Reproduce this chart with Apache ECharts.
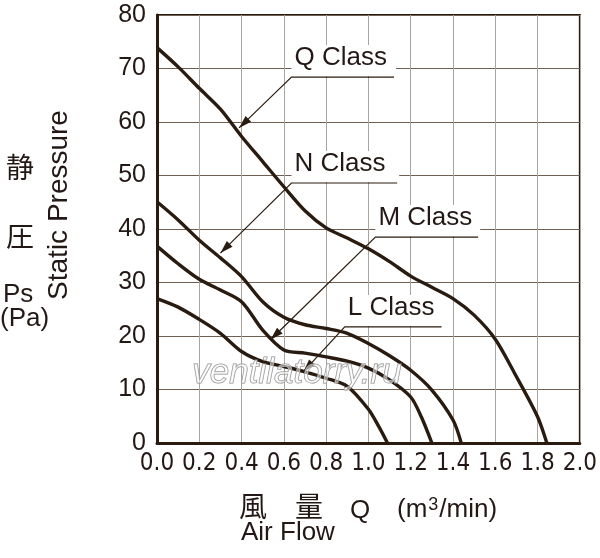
<!DOCTYPE html>
<html>
<head>
<meta charset="utf-8">
<script src="https://cdn.jsdelivr.net/npm/echarts@6/dist/echarts.min.js"></script>
<style>
  html, body { margin: 0; padding: 0; background: #fff; }
  #main { width: 600px; height: 558px; }
</style>
</head>
<body>
<div id="main"></div>
<script>
// air flow (m3/min) / static pressure (Pa)
var qFlow = [0, 0.1, 0.2, 0.3, 0.4, 0.5, 0.6, 0.7, 0.8, 0.9, 1.0, 1.1, 1.2, 1.3, 1.4, 1.5, 1.6, 1.7, 1.8, 1.844];
var qPres = [73.9, 70.3, 66.3, 62.4, 57.3, 52.6, 47.9, 43.4, 40.2, 38.3, 36.3, 33.9, 31.2, 29.1, 27.0, 23.9, 19.4, 12.4, 4.9, 0];

var nFlow = [0, 0.1, 0.2, 0.3, 0.4, 0.5, 0.6, 0.7, 0.8, 0.9, 1.0, 1.1, 1.2, 1.3, 1.4, 1.439];
var nPres = [45.1, 41.7, 37.9, 34.6, 31.1, 26.4, 23.5, 22.1, 21.4, 20.5, 18.6, 16.3, 13.6, 9.9, 4.3, 0];

var mFlow = [0, 0.1, 0.2, 0.3, 0.4, 0.5, 0.6, 0.7, 0.8, 0.9, 1.0, 1.1, 1.2, 1.25, 1.3];
var mPres = [36.8, 33.5, 30.6, 28.6, 26.4, 21.1, 17.4, 16.8, 16.1, 15.3, 14.0, 11.8, 8.6, 4.9, 0];

var lFlow = [0, 0.1, 0.2, 0.3, 0.4, 0.5, 0.6, 0.7, 0.8, 0.9, 1.0, 1.05, 1.09];
var lPres = [27.0, 25.4, 23.1, 20.5, 17.1, 15.2, 14.3, 13.3, 12.1, 10.6, 6.3, 3.0, 0];

// class labels: underline start/end and arrow tip, in data coords
var classNames = ['Q Class', 'N Class', 'M Class', 'L Class'];
var lineStart = [[0.636, 68.4], [0.636, 48.6], [1.033, 38.5], [0.888, 21.7]];
var lineEnd = [[1.121, 68.4], [1.136, 48.6], [1.519, 38.5], [1.346, 21.7]];
var arrowTip = [[0.388, 58.9], [0.300, 35.5], [0.537, 19.3], [0.692, 13.3]];

var ink = '#2a1b10';
var textColor = '#231815';
var font = '"Liberation Sans", Arial, sans-serif';
var narrowFont = '"Liberation Sans Narrow", "DejaVu Sans Condensed", "Liberation Sans", sans-serif';
var cjkFont = '"Noto Sans CJK JP", "Noto Sans CJK SC", sans-serif';

function pairs(xs, ys) {
  return xs.map(function (x, i) { return [x, ys[i]]; });
}

function curve(name, xs, ys) {
  return {
    name: name,
    type: 'line',
    data: pairs(xs, ys),
    smooth: 0.3,
    showSymbol: false,
    lineStyle: { color: ink, width: 3.4 },
    z: 3
  };
}

var chart = echarts.init(document.getElementById('main'));

var option = {
  animation: false,
  backgroundColor: '#fff',
  grid: {
    left: 157, right: 15, top: 15, bottom: 115,
    show: true, borderColor: ink, borderWidth: 2
  },
  xAxis: {
    type: 'value',
    min: 0, max: 2, interval: 0.2,
    axisLine: { show: true, lineStyle: { color: ink, width: 3 } },
    axisTick: { show: false },
    axisLabel: {
      color: textColor, fontSize: 24, fontFamily: narrowFont, margin: 9,
      formatter: function (v) { return v.toFixed(1); }
    },
    splitLine: { show: true, lineStyle: { color: '#aaa49e', width: 1 } }
  },
  yAxis: {
    type: 'value',
    min: 0, max: 80, interval: 10,
    axisLine: { show: true, lineStyle: { color: ink, width: 3 } },
    axisTick: { show: false },
    axisLabel: { color: textColor, fontSize: 25, fontFamily: font, margin: 11 },
    splitLine: { show: true, lineStyle: { color: '#6e5f52', width: 1 } }
  },
  series: [
    curve('Q Class', qFlow, qPres),
    curve('N Class', nFlow, nPres),
    curve('M Class', mFlow, mPres),
    curve('L Class', lFlow, lPres)
  ]
};

chart.setOption(option);

// fixed text round the plot
var graphics = [
  { type: 'text', left: 6, top: 153, style: { text: '静', font: '28px ' + cjkFont, fill: textColor } },
  { type: 'text', left: 6, top: 222, style: { text: '圧', font: '28px ' + cjkFont, fill: textColor } },
  { type: 'text', left: 3, top: 282, style: { text: 'Ps', font: '26px ' + font, fill: textColor } },
  { type: 'text', left: 0, top: 306, style: { text: '(Pa)', font: '26px ' + font, fill: textColor } },
  {
    type: 'text', x: 73, y: 205, rotation: Math.PI / 2,
    style: { text: 'Static Pressure', font: '28px ' + font, fill: textColor, textAlign: 'center', textVerticalAlign: 'bottom' }
  },
  { type: 'text', left: 239, top: 492, style: { text: '風', font: '28px ' + cjkFont, fill: textColor } },
  { type: 'text', left: 295, top: 492, style: { text: '量', font: '28px ' + cjkFont, fill: textColor } },
  { type: 'text', left: 350, top: 498, style: { text: 'Q', font: '26px ' + font, fill: textColor } },
  {
    type: 'text', left: 397, top: 496,
    style: {
      text: '(m{s|3}/min)', font: '26px ' + font, fill: textColor,
      rich: { s: { fontSize: 18, fontFamily: 'Liberation Sans', fill: textColor, padding: [0, 1, 9, 1] } }
    }
  },
  { type: 'text', left: 241, top: 520, style: { text: 'Air Flow', font: '26px ' + font, fill: textColor } },
  {
    type: 'text', x: 297, y: 391, z: 10,
    style: {
      text: 'ventilatorry.ru', font: 'italic 35px ' + font, fill: 'rgba(255,255,255,0.5)',
      stroke: '#8c8c8c', lineWidth: 1, textAlign: 'center', textVerticalAlign: 'bottom'
    }
  }
];

// class labels with leader lines and arrows
classNames.forEach(function (name, i) {
  var a = chart.convertToPixel({ gridIndex: 0 }, lineStart[i]);
  var b = chart.convertToPixel({ gridIndex: 0 }, lineEnd[i]);
  var t = chart.convertToPixel({ gridIndex: 0 }, arrowTip[i]);
  graphics.push({
    type: 'rect', z: 1,
    shape: { x: a[0], y: a[1] - 32, width: b[0] - a[0] + 2, height: 31 },
    style: { fill: '#fff' }
  });
  graphics.push({
    type: 'text', z: 4, x: a[0] + 3, y: a[1] - 6,
    style: { text: name, font: '26px ' + font, fill: textColor, textVerticalAlign: 'bottom' }
  });
  graphics.push({
    type: 'polyline', z: 4,
    shape: { points: [[b[0], b[1]], [a[0], a[1]], [t[0], t[1]]] },
    style: { stroke: ink, lineWidth: 1.2, fill: null }
  });
  // arrow head at the tip
  var dx = t[0] - a[0], dy = t[1] - a[1];
  var len = Math.sqrt(dx * dx + dy * dy);
  var ux = dx / len, uy = dy / len;
  var hl = 13, hw = 4;
  var bx = t[0] - ux * hl, by = t[1] - uy * hl;
  graphics.push({
    type: 'polygon', z: 4,
    shape: { points: [[t[0], t[1]], [bx - uy * hw, by + ux * hw], [bx + uy * hw, by - ux * hw]] },
    style: { fill: ink }
  });
});

chart.setOption({ graphic: graphics });
</script>
</body>
</html>
